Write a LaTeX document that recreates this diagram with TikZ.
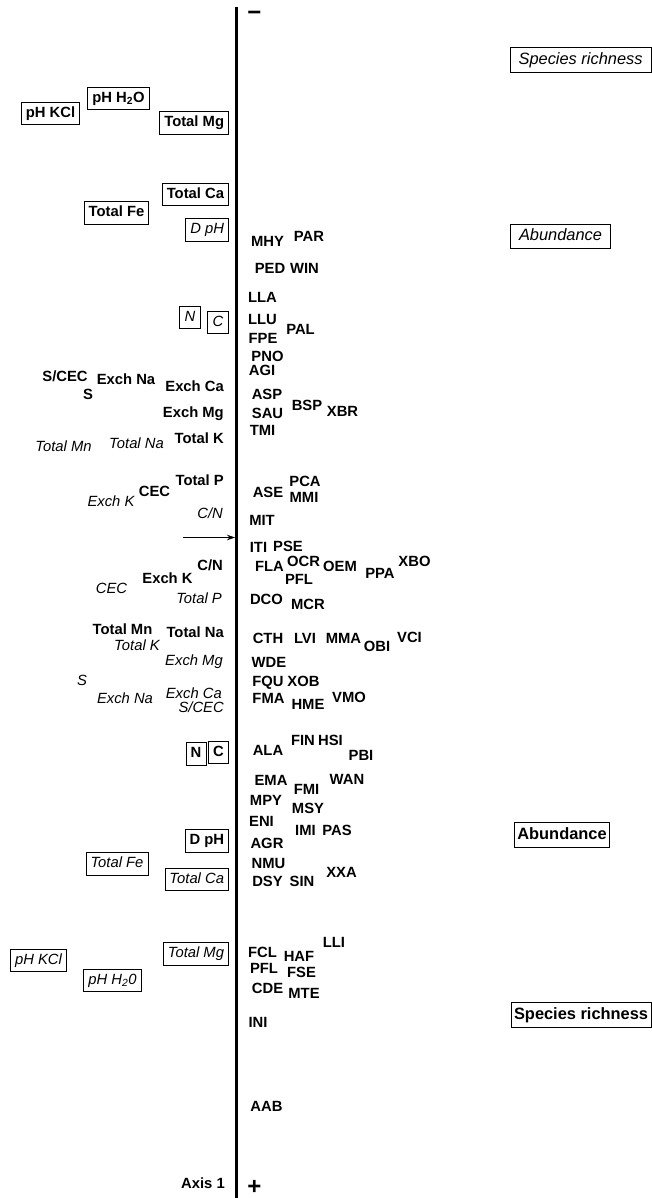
\documentclass[tikz,border=0pt]{standalone}
\usepackage{fontspec}
\setmainfont{Liberation Sans}
\usetikzlibrary{arrows.meta}
\newcommand{\fs}{\fontsize{14.8}{17}\selectfont}
\newcommand{\fb}{\fontsize{16.4}{19}\selectfont}
\tikzset{
  lab/.style={font=\fs\bfseries, inner sep=0pt, anchor=base},
  ilab/.style={font=\fs\itshape, inner sep=0pt, anchor=base},
  bx/.style={draw, line width=0.9pt, font=\fs\bfseries, inner xsep=4.5pt, inner ysep=4pt, text height=11pt, text depth=3.5pt},
  ibx/.style={bx, font=\fs\itshape},
  rbx/.style={draw, line width=0.9pt, font=\fb\bfseries, inner xsep=3pt, inner ysep=4.5pt, text height=12pt, text depth=3.5pt},
  irbx/.style={rbx, font=\fb\itshape, inner xsep=8.5pt},
  sign/.style={font=\fontsize{24}{26}\selectfont\bfseries, inner sep=0pt, anchor=base},
  axisline/.style={line width=2.6pt},
  arr/.style={line width=0.9pt, -{Stealth[length=8pt,width=5.5pt]}}
}
\begin{document}
\begin{tikzpicture}[x=1pt,y=-1pt]
\useasboundingbox (0,0) rectangle (652,1198);
% axis
\coordinate (axT) at (236.5,7);
\coordinate (axB) at (236.5,1198);
\draw[axisline] (axT) -- (axB);
\node[sign] (minus) at (254.5,21) {−};
\node[sign] (plus) at (254.5,1194) {+};
\node[lab, anchor=base east] (axis1) at (225,1188) {Axis 1};
% arrow
\coordinate (arS) at (183,537.5);
\coordinate (arE) at (235,537.5);
\draw[arr] (arS) -- (arE);

% upper boxes
\node[bx] (pHH2Oa) at (118.5,98.5) {pH H\textsubscript{2}O};
\node[bx] (pHKCla) at (50.5,113.5) {pH KCl};
\node[bx, anchor=east] (TMga) at (229,123) {Total Mg};
\node[bx, anchor=east] (TCaa) at (229,194.5) {Total Ca};
\node[bx] (TFea) at (116.5,213) {Total Fe};
\node[ibx, anchor=east] (DpHa) at (229,230) {D pH};
\node[ibx, minimum width=21pt] (Na) at (190,317.5) {N};
\node[ibx, minimum width=21pt, anchor=east] (Ca) at (229,322.5) {C};

% lower boxes
\node[bx, minimum width=20pt] (Nb) at (196,754) {N};
\node[bx, minimum width=20pt, anchor=east] (Cb) at (229,752.5) {C};
\node[bx, anchor=east] (DpHb) at (229,841) {D pH};
\node[ibx] (TFeb) at (117,864) {Total Fe};
\node[ibx, anchor=east] (TCab) at (229,879.5) {Total Ca};
\node[ibx, anchor=east] (TMgb) at (229,954) {Total Mg};
\node[ibx] (pHKClb) at (38.5,960.5) {pH KCl};
\node[ibx] (pHH2Ob) at (112.5,980.5) {pH H\textsubscript{2}0};

% right boxes
\node[irbx, anchor=east] (SRa) at (651.5,60) {Species richness};
\node[irbx] (Aba) at (560.5,236.5) {Abundance};
\node[rbx] (Abb) at (562,835) {Abundance};
\node[rbx, anchor=east] (SRb) at (651.5,1015) {Species richness};

% left plain labels, bold
\node[lab] (SCECa) at (65,381) {S/CEC};
\node[lab] (Sa) at (88,399) {S};
\node[lab] (ENaa) at (126,384) {Exch Na};
\node[lab, anchor=base east] (ECaa) at (224,391) {Exch Ca};
\node[lab, anchor=base east] (EMga) at (224,417) {Exch Mg};
\node[lab, anchor=base east] (TKa) at (224,443) {Total K};
\node[lab, anchor=base east] (TPa) at (224,485) {Total P};
\node[lab] (CECa) at (154.5,496.5) {CEC};
\node[lab, anchor=base east] (CNb) at (223,570) {C/N};
\node[lab] (EKb) at (167.5,583) {Exch K};
\node[lab] (TMnb) at (122.5,634) {Total Mn};
\node[lab, anchor=base east] (TNab) at (224,637) {Total Na};
% left plain labels, italic
\node[ilab] (TMna) at (63.5,451) {Total Mn};
\node[ilab] (TNaa) at (136.5,448) {Total Na};
\node[ilab] (EKa) at (111,506) {Exch K};
\node[ilab, anchor=base east] (CNa) at (223,518) {C/N};
\node[ilab] (CECb) at (111.5,593) {CEC};
\node[ilab, anchor=base east] (TPb) at (222,603) {Total P};
\node[ilab] (TKb) at (137,650) {Total K};
\node[ilab, anchor=base east] (EMgb) at (223,665) {Exch Mg};
\node[ilab] (Sb) at (82,685) {S};
\node[ilab] (ENab) at (125,703) {Exch Na};
\node[ilab, anchor=base east] (ECab) at (222,698) {Exch Ca};
\node[ilab, anchor=base east] (SCECb) at (224,712) {S/CEC};

% species codes
\foreach \nm/\xx/\yy in {MHY/267.5/247, PAR/309/241, PED/270/273, WIN/304.5/273,
  LLA/262.5/302, LLU/262.5/324, FPE/263/343, PAL/300.5/334, PNO/267.5/361,
  AGI/262/375, ASP/267/399, SAU/267.5/418, TMI/262.5/435, BSP/307/410,
  XBR/342.5/416, ASE/268/497, PCA/305/486, MMI/304/502, MIT/262/525,
  ITI/258.5/552, PSE/288/551, FLA/269.5/571, OCR/303.5/566, OEM/340/571,
  PPA/380/578, XBO/414.5/566, PFL/299/584, DCO/266.5/604, MCR/308/609,
  CTH/268/643, LVI/305/643, MMA/343.5/643, OBI/377/651, VCI/409.5/642,
  WDE/269/667, FQU/268/686, XOB/303.5/686, FMA/268.5/703, HME/308/709,
  VMO/349/702, ALA/268/755, FIN/303/745, HSI/330.5/745, PBI/361/760,
  EMA/271/785, FMI/306.5/794, WAN/347/784, MPY/266/805, MSY/308/813,
  ENI/261.5/826, IMI/305.5/835, PAS/337/835, AGR/267/848, NMU/268.5/868,
  DSY/267.5/886, SIN/302/886, XXA/341.5/877, LLI/334/947, FCL/262.5/957,
  HAF/299/961, FSE/301.5/977, CDE/267.5/993, MTE/304/998,
  INI/258/1027, AAB/266.5/1111}
  {\node[lab] (sp\nm) at (\xx,\yy) {\nm};}
\node[lab] (spPFLb) at (264,973) {PFL};
\end{tikzpicture}
\end{document}
